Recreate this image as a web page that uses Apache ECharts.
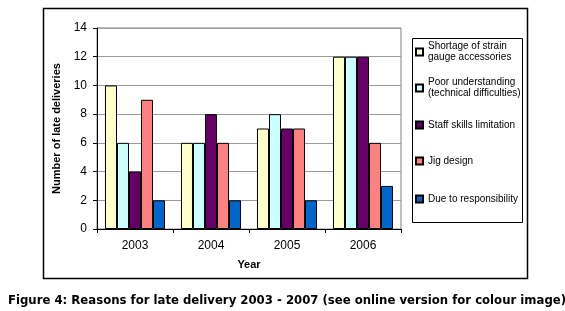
<!DOCTYPE html>
<html><head><meta charset="utf-8">
<script src="https://cdn.jsdelivr.net/npm/echarts@6/dist/echarts.min.js"></script>
<style>html,body{margin:0;padding:0;background:#fff}#c{width:565px;height:311px}</style>
</head><body><div id="c"></div>
<script>
const years = ['2003', '2004', '2005', '2006'];
const seriesNames = ['Shortage of strain gauge accessories', 'Poor understanding (technical difficulties)', 'Staff skills limitation', 'Jig design', 'Due to responsibility'];
const legendLabels = ['Shortage of strain\ngauge accessories', 'Poor understanding\n(technical difficulties)', 'Staff skills limitation', 'Jig design', 'Due to responsibility'];
const shortage = [10, 6, 7, 12];
const poorUnderstanding = [6, 6, 8, 12];
const staffSkills = [4, 8, 7, 12];
const jigDesign = [9, 6, 7, 6];
const dueToResponsibility = [2, 2, 2, 3];
const yTicks = [0, 2, 4, 6, 8, 10, 12, 14];
const colors = ['#FFFFCC', '#CCFFFF', '#660066', '#FF8080', '#0066CC'];
const caption = 'Figure 4: Reasons for late delivery 2003 - 2007 (see online version for colour image)';

const values = [shortage, poorUnderstanding, staffSkills, jigDesign, dueToResponsibility];
const F = 'Liberation Sans, Arial, sans-serif';
const legendTops = [52, 88, 125, 161, 199];

const chart = echarts.init(document.getElementById('c'), null, {renderer: 'canvas'});
const legends = seriesNames.map((n, i) => {
  const multi = legendLabels[i].indexOf('\n') >= 0;
  return {
    data: [n], left: 415, top: legendTops[i] - (multi ? 16.5 : 5.5), padding: 0,
    itemWidth: 7, itemHeight: 7, itemGap: 4, selectedMode: false,
    icon: 'rect',
    formatter: () => legendLabels[i],
    textStyle: {fontFamily: F, fontSize: 10, color: '#000', lineHeight: 11, padding: multi ? [11, 0, 0, 0] : 0}
  };
});
chart.setOption({
  animation: false,
  color: colors,
  grid: {left: 97, right: 164, top: 28, bottom: 82, show: true, borderColor: '#808080', borderWidth: 1},
  legend: legends,
  xAxis: {
    type: 'category', data: years,
    name: 'Year', nameLocation: 'middle', nameGap: 30,
    nameTextStyle: {fontFamily: F, fontSize: 11, fontWeight: 'bold', color: '#000'},
    axisLine: {lineStyle: {color: '#000', width: 1}},
    axisTick: {show: true, inside: false, length: 4, alignWithLabel: false, lineStyle: {color: '#000'}},
    axisLabel: {fontFamily: F, fontSize: 12, color: '#000', margin: 11}
  },
  yAxis: {
    type: 'value', min: yTicks[0], max: yTicks[yTicks.length - 1], interval: 2,
    name: 'Number of late deliveries', nameLocation: 'middle', nameGap: 29,
    nameTextStyle: {fontFamily: F, fontSize: 11, fontWeight: 'bold', color: '#000'},
    axisLine: {show: true, lineStyle: {color: '#000', width: 1}},
    axisTick: {show: true, length: 4, lineStyle: {color: '#000'}},
    axisLabel: {fontFamily: F, fontSize: 12, color: '#000', margin: 10},
    splitLine: {show: true, lineStyle: {color: '#9a9a9a', width: 1}}
  },
  series: seriesNames.map((n, i) => ({
    name: n, type: 'bar', data: values[i],
    barGap: '0%', barCategoryGap: '21%',
    itemStyle: {color: colors[i], borderColor: '#000', borderWidth: 1}
  })),
  graphic: [
    {type: 'rect', shape: {x: 43.5, y: 8.5, width: 484, height: 270}, style: {fill: 'none', stroke: '#000', lineWidth: 1.5}, silent: true},
    {type: 'rect', shape: {x: 412.5, y: 38.5, width: 110, height: 184}, style: {fill: 'none', stroke: '#000', lineWidth: 1}, silent: true},
    {type: 'text', left: 8, top: 294, style: {text: caption, font: 'bold 13px "DejaVu Sans Condensed", "DejaVu Sans", sans-serif', fill: '#000'}}
  ]
});
</script></body></html>
